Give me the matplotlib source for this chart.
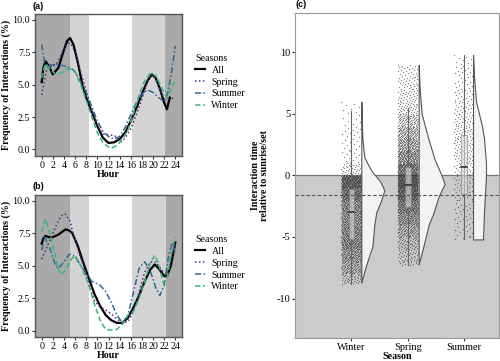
"""Diel interaction frequency by season and timing relative to sunrise/sunset"""
import numpy as np
import matplotlib
matplotlib.use("Agg")
import matplotlib.pyplot as plt
from matplotlib.patches import Rectangle

plt.rcParams['font.family'] = ['Liberation Serif', 'DejaVu Serif']
plt.rcParams['axes.unicode_minus'] = False

# ---- panel (a) curves: hour, frequency (%) ----
a_all_h = [0, 0.3, 0.7, 1.2, 2, 3, 4, 4.6, 5.1, 5.7, 6.5, 7.3, 8, 9, 10, 11, 12, 13, 14, 15, 16, 17, 18, 19, 19.8, 20.5, 21.3, 22, 22.5, 23]
a_all_v = [5.2, 6.3, 6.8, 6.5, 5.8, 6.3, 7.7, 8.4, 8.6, 8.1, 6.7, 5.0, 4.0, 2.9, 1.8, 0.9, 0.5, 0.55, 0.8, 1.3, 2.2, 3.2, 4.3, 5.3, 5.8, 5.5, 4.6, 3.6, 3.1, 4.0]
a_spr_h = [0, 0.5, 1, 1.8, 2.5, 3.3, 4, 4.7, 5.2, 6, 7, 8, 9, 10, 11, 12, 13, 14.3, 15, 16, 17, 18, 19, 19.6, 20.3, 21, 22, 23, 24]
a_spr_v = [4.2, 5.4, 6.3, 6.6, 6.5, 7.1, 7.8, 8.2, 8.2, 7.5, 6.0, 4.5, 3.0, 1.8, 1.2, 1.1, 1.1, 0.6, 0.9, 1.6, 2.7, 3.9, 5.2, 5.8, 5.6, 4.9, 3.9, 3.9, 4.0]
a_sum_h = [0, 0.6, 1.5, 2.5, 3.5, 4.5, 5.5, 6, 7, 8, 9, 10, 11, 12, 13, 14, 15, 16, 17, 18, 19, 20, 21, 22, 22.6, 23.3, 24]
a_sum_v = [8.1, 6.5, 6.4, 6.6, 6.5, 6.4, 6.2, 6.0, 5.2, 4.4, 3.3, 2.2, 1.4, 1.0, 0.8, 1.0, 1.7, 2.7, 3.6, 4.3, 4.6, 4.4, 4.0, 3.7, 4.3, 5.9, 8.0]
a_win_h = [0, 0.4, 0.8, 1.5, 2.5, 3.5, 4.5, 5, 6, 7, 8, 9, 10, 11, 12, 12.5, 13.5, 14.5, 15.5, 16.5, 17.5, 18.5, 19.5, 20.5, 21.5, 22.5, 23, 24]
a_win_v = [5.5, 6.3, 6.6, 6.2, 5.8, 5.9, 6.2, 6.2, 6.0, 5.0, 3.8, 2.5, 1.3, 0.5, 0.2, 0.1, 0.3, 0.8, 1.5, 2.8, 4.2, 5.3, 5.9, 5.7, 4.8, 4.0, 4.4, 5.4]

# ---- panel (b) curves ----
b_all_h = [0, 0.3, 0.7, 1.3, 2, 3, 4.3, 5, 5.5, 6.5, 7.5, 8.5, 9.5, 10.5, 11.5, 12.5, 13.5, 14.5, 15.5, 16.5, 17.5, 18.5, 19.5, 20.3, 21, 22, 22.5, 23.2, 24]
b_all_v = [6.7, 7.1, 7.3, 7.2, 7.2, 7.4, 7.8, 7.7, 7.5, 6.5, 5.2, 4.0, 2.8, 1.9, 1.2, 0.8, 0.6, 0.6, 1.0, 1.8, 2.7, 3.8, 4.7, 5.1, 4.8, 4.2, 4.2, 5.0, 6.8]
b_spr_h = [0, 1, 1.8, 2.5, 3.2, 3.7, 4.2, 5, 6, 7, 7.5, 8.5, 9.5, 10.5, 11.5, 12.5, 13.5, 14.5, 15.5, 16.5, 17.5, 18.5, 19.5, 20.5, 21.5, 22.3, 23, 24]
b_spr_v = [5.5, 6.5, 7.3, 8.0, 8.6, 8.9, 9.0, 8.5, 7.0, 5.6, 5.0, 3.5, 2.3, 1.8, 1.6, 1.3, 0.9, 0.6, 0.7, 1.5, 3.0, 4.5, 5.3, 5.3, 4.7, 4.3, 5.0, 6.7]
b_sum_h = [0, 0.6, 1.5, 2.5, 3, 4, 5, 6, 7.5, 9, 10.5, 11.5, 12.5, 13.5, 14.5, 15.5, 16.5, 17.5, 18.5, 19.5, 20.5, 21.2, 22, 22.8, 23.5, 24]
b_sum_v = [6.2, 7.2, 6.3, 5.0, 4.8, 5.3, 5.9, 5.7, 4.7, 3.8, 3.5, 3.0, 2.2, 1.2, 0.6, 1.2, 3.0, 4.8, 5.3, 4.6, 3.3, 2.7, 3.5, 5.8, 6.8, 5.9]
b_win_h = [0, 0.7, 1.8, 2.8, 3.4, 4.2, 5.3, 6, 7, 8.5, 9.5, 10.5, 11.5, 12.5, 13.5, 14.5, 15.5, 16.5, 17.5, 18.5, 19.5, 20.3, 21, 21.8, 22.5, 23.2, 24]
b_win_v = [7.6, 8.6, 7.0, 5.0, 4.3, 4.6, 5.5, 5.8, 5.0, 3.5, 2.0, 0.8, 0.1, 0.05, 0.1, 0.5, 1.2, 1.5, 2.5, 3.8, 5.2, 5.8, 5.2, 3.7, 4.0, 5.8, 7.2]

# light periods (hour start, hour end, shade) for each panel
a_bands = [(-1.2, 5.0, 'dark'), (5.0, 8.5, 'light'), (8.5, 16.2, 'none'), (16.2, 22.2, 'light'), (22.2, 25.2, 'dark')]
b_bands = [(-1.2, 5.0, 'dark'), (5.0, 8.5, 'light'), (8.5, 16.2, 'none'), (16.2, 22.4, 'light'), (22.4, 25.2, 'dark')]

# ---- panel (c): relative interaction time by season ----
seasons = ['Winter', 'Spring', 'Summer']
# point counts per 1 h bin (bin edges top -> bottom)
win_edges = [6, 5, 4, 3, 2, 1, 0, -1, -2, -3, -4, -5, -6, -7, -8, -8.8]
win_counts = [8, 8, 12, 12, 14, 40, 250, 200, 150, 140, 150, 150, 120, 90, 40]
spr_edges = [9, 8, 7, 6, 5, 4, 3, 2, 1, 0, -1, -2, -3, -4, -5, -6, -7, -7.3]
spr_counts = [25, 30, 35, 45, 80, 110, 140, 180, 250, 280, 250, 180, 130, 90, 60, 40, 10]
sum_edges = [9.8, 9, 8, 7, 6, 5, 4, 3, 2, 1, 0, -1, -2, -3, -4, -5, -5.2]
sum_counts = [8, 15, 15, 20, 25, 30, 35, 35, 35, 30, 25, 20, 15, 15, 12, 3]
# boxplot stats: whisker low, q1, median, q3, whisker high
win_box = [-8.8, -5.2, -3.0, -1.1, 5.2]
spr_box = [-7.3, -2.6, -0.8, 0.65, 5.5]
sum_box = [-5.2, -1.5, 0.7, 3.3, 9.8]
# half-violin outline: y, half-width (relative)
win_vy = [6, 3, 1.5, 1, 0.4, 0, -0.5, -1.2, -2, -3, -4, -5, -5.8, -6.5, -7.5, -8.7]
win_vw = [0, 1, 3, 6, 10, 14, 19, 23, 20, 15, 13, 12, 11, 8, 4, 0]
spr_vy = [9, 7, 5, 2.9, 1.3, 0, -0.7, -1.7, -3, -4, -5, -6, -7.2]
spr_vw = [0, 1, 3, 10, 16, 23, 26, 20, 15, 10, 7, 4, 0]
sum_vy = [9.8, 8, 6, 5, 4, 3, 1, 0, -1.5, -3, -4, -5.2]
sum_vw = [0, 1, 3, 6, 9, 11, 13, 13, 12, 11, 10.5, 10]
mean_shift = -1.6

SERIES_COLORS = {'All': 'black', 'Spring': '#5a2a86', 'Summer': '#31688e', 'Winter': '#35b779'}
SERIES_LS = {'All': '-', 'Spring': (0, (1, 1.6)), 'Summer': (0, (4, 1.5, 1, 1.5)), 'Winter': (0, (3.5, 1.8))}
SHADE = {'dark': '#a9a9a9', 'light': '#d4d4d4'}
FS = 7.2

fig = plt.figure(figsize=(5, 3.61), dpi=100)


def line_panel(rect, bands, curves, tag):
    ax = fig.add_axes(rect)
    for x0, x1, kind in bands:
        if kind != 'none':
            ax.axvspan(x0, x1, color=SHADE[kind], lw=0, zorder=0)
    for name, h, v in curves:
        ax.plot(h, v, color=SERIES_COLORS[name], ls=SERIES_LS[name],
                lw=1.6 if name == 'All' else 1.1, label=name, zorder=3)
    ax.set_xlim(-1.2, 25.2)
    ax.set_ylim(-0.5, 10.45)
    ax.set_xticks(range(0, 25, 2))
    ax.set_yticks([0, 2.5, 5, 7.5, 10])
    ax.set_yticklabels(['0.0', '2.5', '5.0', '7.5', '10.0'])
    ax.tick_params(labelsize=FS, length=2.5, pad=1, color='#333')
    ax.set_xlabel('Hour', fontsize=FS, fontweight='bold', labelpad=0)
    ax.set_ylabel('Frequency of Interactions (%)', fontsize=FS, fontweight='bold', labelpad=1)
    for s in ax.spines.values():
        s.set_color('#555555')
        s.set_linewidth(1.0)
    leg = ax.legend(loc='center left', bbox_to_anchor=(1.03, 0.52), frameon=False,
                    title='Seasons', fontsize=FS, title_fontsize=FS,
                    handlelength=1.0, handletextpad=0.6, labelspacing=0.28)
    leg._legend_box.align = 'left'
    ax.text(-0.02, 1.025, tag, transform=ax.transAxes, fontsize=6.5, fontweight='bold',
            family=['Liberation Sans', 'DejaVu Sans'], va='bottom', ha='left')
    return ax


line_panel([0.07, 0.568, 0.294, 0.393], a_bands,
           [('All', a_all_h, a_all_v), ('Spring', a_spr_h, a_spr_v),
            ('Summer', a_sum_h, a_sum_v), ('Winter', a_win_h, a_win_v)], '(a)')
line_panel([0.07, 0.066, 0.294, 0.394], b_bands,
           [('All', b_all_h, b_all_v), ('Spring', b_spr_h, b_spr_v),
            ('Summer', b_sum_h, b_sum_v), ('Winter', b_win_h, b_win_v)], '(b)')

# ---- panel (c) ----
axc = fig.add_axes([0.59, 0.064, 0.408, 0.9])
axc.set_xlim(0, 3.62)
axc.set_ylim(-13.2, 13.2)
axc.axhspan(-13.2, 0, color='#cbcbcb', lw=0, zorder=0)
axc.axhline(0, color='#777777', lw=0.9, zorder=1)

px = 1 / 56.5  # one pixel in x data units
golden = 0.6180339887
groups = [(win_edges, win_counts, win_box, win_vy, win_vw, 10),
          (spr_edges, spr_counts, spr_box, spr_vy, spr_vw, 11),
          (sum_edges, sum_counts, sum_box, sum_vy, sum_vw, 9)]
for i, (edges, counts, box, vy, vw, gap) in enumerate(groups):
    xc = i + 1
    xs, ys = [], []
    for j, n in enumerate(counts):
        hi, lo = edges[j], edges[j + 1]
        for k in range(n):
            ys.append(hi - (k + 0.5) / n * (hi - lo))
            xs.append(xc + (((k + 3 * j) * golden) % 1 * 2 - 1) * 0.18)
    axc.scatter(xs, ys, s=0.9, c='#1a1a1a', alpha=0.55, lw=0, zorder=2)
    # whisker + box
    axc.plot([xc, xc], [box[0], box[4]], color='#666666', lw=0.8, zorder=3)
    axc.add_patch(Rectangle((xc - 0.05, box[1]), 0.1, box[3] - box[1],
                            facecolor='#dddddd', alpha=0.6, edgecolor='#777777',
                            lw=0.6, zorder=4))
    axc.plot([xc - 0.05, xc + 0.05], [box[2], box[2]], color='#333333', lw=1.2, zorder=5)
    # half violin
    base = xc + gap * px
    axc.fill_betweenx(vy, base, base + np.array(vw) * px, facecolor='#f3f3f3',
                      edgecolor='#555555', lw=0.8, zorder=3)

axc.axhline(mean_shift, color='#555555', lw=0.8, ls=(0, (3, 2)), zorder=6)

axc.set_xticks([1, 2, 3])
axc.set_xticklabels(seasons)
axc.set_yticks([-10, -5, 0, 5, 10])
axc.set_yticklabels(['-10', '-5', '0', '5', '10'])
axc.tick_params(labelsize=7.5, length=2.5, pad=1, color='#333')
axc.set_xlabel('Season', fontsize=FS, fontweight='bold', labelpad=0)
axc.set_ylabel('Interaction time\nrelative to sunrise/set', fontsize=FS,
               fontweight='bold', labelpad=5, linespacing=1.1)
for s in axc.spines.values():
    s.set_color('#999999')
    s.set_linewidth(0.8)
axc.text(0.0, 1.012, '(c)', transform=axc.transAxes, fontsize=6.5, fontweight='bold',
         family=['Liberation Sans', 'DejaVu Sans'], va='bottom', ha='left')

fig.savefig('out.png', dpi=100)
